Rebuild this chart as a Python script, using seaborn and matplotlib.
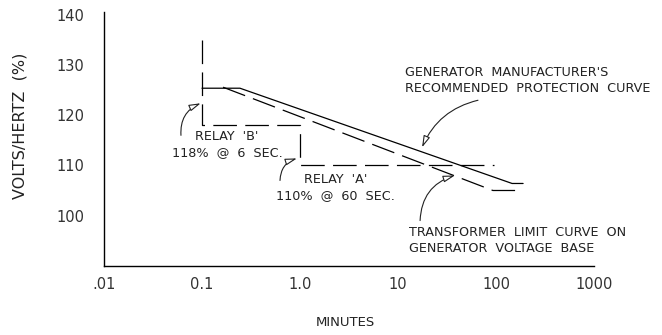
import matplotlib
matplotlib.use("Agg")
import matplotlib.pyplot as plt
import seaborn as sns
import pandas as pd
from matplotlib.ticker import FixedLocator, NullLocator

# Generator manufacturer's recommended protection curve (minutes, % V/Hz)
gen_minutes = [0.1, 0.244, 146, 189]
gen_vhz = [125.4, 125.4, 106.4, 106.4]

# Transformer limit curve on generator voltage base
xfmr_minutes = [0.164, 93, 163]
xfmr_vhz = [125.6, 105.0, 105.0]

# Two-step relay characteristic: B = 118% @ 6 s, A = 110% @ 60 s
relay_minutes = [0.1, 0.1, 1.0, 1.0, 95]
relay_vhz = [135, 118, 118, 110, 110]

x_ticks = [0.01, 0.1, 1.0, 10, 100, 1000]
x_tick_labels = [".01", "0.1", "1.0", "10", "100", "1000"]
y_ticks = [100, 110, 120, 130, 140]
y_tick_labels = ["100", "110", "120", "130", "140"]

sns.set_style("white")
plt.rcParams["font.family"] = ["DejaVu Sans"]
plt.rcParams["lines.scale_dashes"] = False

fig = plt.figure(figsize=(6.62, 3.35), dpi=100)
ax = fig.add_axes([104 / 662, 1 - 265.7 / 335, (594 - 104) / 662, (265.7 - 12) / 335])

dash = (0, (17, 6))
sns.lineplot(data=pd.DataFrame({"m": gen_minutes, "v": gen_vhz}), x="m", y="v",
             estimator=None, sort=False, color="black", lw=0.9, ax=ax)
sns.lineplot(data=pd.DataFrame({"m": xfmr_minutes, "v": xfmr_vhz}), x="m", y="v",
             estimator=None, sort=False, color="black", lw=0.9, linestyle=dash, ax=ax)
sns.lineplot(data=pd.DataFrame({"m": relay_minutes, "v": relay_vhz}), x="m", y="v",
             estimator=None, sort=False, color="black", lw=0.9, linestyle=dash, ax=ax)

ax.set_xscale("log")
ax.set_xlim(0.01, 1000)
ax.set_ylim(90, 140.6)
ax.xaxis.set_major_locator(FixedLocator(x_ticks))
ax.xaxis.set_minor_locator(NullLocator())
ax.set_xticklabels(x_tick_labels)
ax.set_yticks(y_ticks)
ax.set_yticklabels(y_tick_labels)
ax.set_xlabel("")
ax.set_ylabel("")

for side in ("top", "right"):
    ax.spines[side].set_visible(False)
for side in ("left", "bottom"):
    ax.spines[side].set_color("black")
    ax.spines[side].set_linewidth(1.0)

ax.tick_params(axis="both", direction="inout", length=10, width=1.0,
               color="black", labelsize=10.5, labelcolor="#333333")
ax.tick_params(axis="x", pad=3)
ax.tick_params(axis="y", pad=9)
ax.patch.set_alpha(0)

txt = dict(color="#222222", fontsize=9.2)
ax.text(11.8, 126.9, "GENERATOR  MANUFACTURER'S\nRECOMMENDED  PROTECTION  CURVE",
        ha="left", va="center", linespacing=1.3, **txt)
ax.text(0.18, 114.2, "RELAY  'B'\n118%  @  6  SEC.", ha="center", va="center",
        linespacing=1.3, **txt)
ax.text(2.3, 105.5, "RELAY  'A'\n110%  @  60  SEC.", ha="center", va="center",
        linespacing=1.3, **txt)
ax.text(12.9, 95.1, "TRANSFORMER  LIMIT  CURVE  ON\nGENERATOR  VOLTAGE  BASE",
        ha="left", va="center", linespacing=1.3, **txt)

arrow = dict(arrowstyle="-|>,head_length=0.7,head_width=0.2", fc="white",
             ec="#222222", lw=0.8, shrinkA=0, shrinkB=0)
ax.annotate("", xy=(17.6, 113.6), xytext=(65.5, 123),
            arrowprops=dict(connectionstyle="arc3,rad=0.25", **arrow))
ax.annotate("", xy=(0.097, 122.4), xytext=(0.061, 116),
            arrowprops=dict(connectionstyle="arc3,rad=-0.35", **arrow))
ax.annotate("", xy=(0.93, 111.4), xytext=(0.625, 107),
            arrowprops=dict(connectionstyle="arc3,rad=-0.35", **arrow))
ax.annotate("", xy=(38, 108), xytext=(16.8, 99),
            arrowprops=dict(connectionstyle="arc3,rad=-0.35", **arrow))

fig.text(20 / 662, 1 - 126 / 335, "VOLTS/HERTZ  (%)", rotation=90,
         ha="center", va="center", fontsize=11.5, color="#222222")
fig.text(345 / 662, 1 - 322 / 335, "MINUTES", ha="center", va="center",
         fontsize=9.5, color="#222222")

fig.savefig("out.png", dpi=100, facecolor="white")
